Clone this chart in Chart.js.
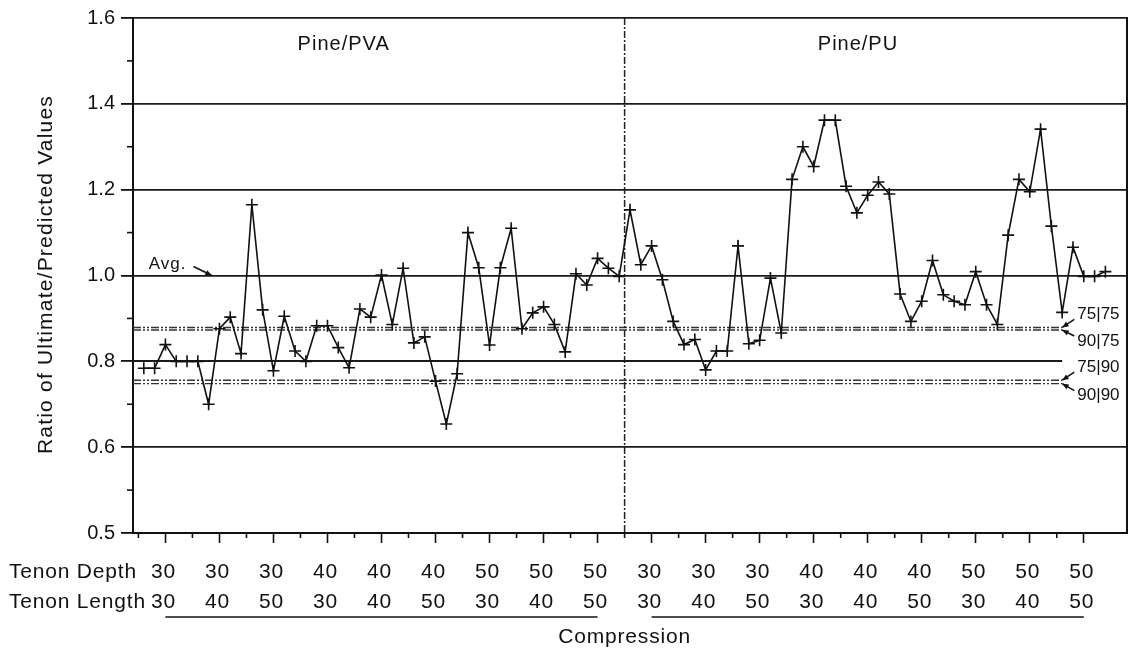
<!DOCTYPE html>
<html>
<head>
<meta charset="utf-8">
<script src="https://cdn.jsdelivr.net/npm/chart.js@4.4.1/dist/chart.umd.min.js"></script>
<style>
html,body{margin:0;padding:0;background:#fff;}
#wrap{width:1137px;height:654px;position:relative;}
</style>
</head>
<body>
<div id="wrap"><canvas id="c" width="1137" height="654"></canvas></div>
<script>
// ---- data ----
const ratios = [
  0.784, 0.784, 0.839, 0.800, 0.800, 0.800, 0.700, 0.876, 0.903, 0.818,
  1.165, 0.920, 0.778, 0.905, 0.824, 0.800, 0.883, 0.883, 0.832, 0.785,
  0.922, 0.903, 1.001, 0.886, 1.017, 0.843, 0.857, 0.754, 0.654, 0.771,
  1.100, 1.018, 0.838, 1.018, 1.110, 0.876, 0.913, 0.927, 0.886, 0.822,
  1.004, 0.978, 1.040, 1.017, 0.998, 1.153, 1.025, 1.069, 0.990, 0.893,
  0.839, 0.851, 0.780, 0.824, 0.824, 1.069, 0.841, 0.849, 0.994, 0.866,
  1.224, 1.300, 1.254, 1.362, 1.362, 1.208, 1.146, 1.187, 1.218, 1.190,
  0.957, 0.893, 0.940, 1.035, 0.955, 0.940, 0.932, 1.009, 0.932, 0.886,
  1.094, 1.224, 1.195, 1.341, 1.115, 0.914, 1.066, 0.998, 0.998, 1.009
];
const depthLabels  = ['30','30','30','40','40','40','50','50','50','30','30','30','40','40','40','50','50','50'];
const lengthLabels = ['30','40','50','30','40','50','30','40','50','30','40','50','30','40','50','30','40','50'];
const pointsPerGroup = 5;
const panelTitles = ['Pine/PVA', 'Pine/PU'];
const refLabels = ['75|75', '90|75', '75|90', '90|90'];
const refValues = [0.879, 0.873, 0.756, 0.748];
const avgValue = 1.0;
const yTickValues = [0.4, 0.6, 0.8, 1.0, 1.2, 1.4, 1.6];
const yTickLabels = ['0.5', '0.6', '0.8', '1.0', '1.2', '1.4', '1.6'];
const yMinorTicks = [0.5, 0.7, 0.9, 1.1, 1.3, 1.5];
const rowTitles = ['Tenon Depth', 'Tenon Length'];
const yTitle = 'Ratio of Ultimate/Predicted Values';
const xTitle = 'Compression';
const avgText = 'Avg.';

// derived structure
const groupCenters = depthLabels.map((_, g) => g * pointsPerGroup + (pointsPerGroup - 1) / 2);
const xMinorTicks = depthLabels.map((_, g) => g * pointsPerGroup - 0.5);
const dividerAt = ratios.length / 2 - 0.5;

const FONT = '"Liberation Sans", Arial, Helvetica, sans-serif';
Chart.defaults.font.family = FONT;
Chart.defaults.color = '#111';

function arrow(ctx, x1, y1, x2, y2, head) {
  ctx.beginPath(); ctx.moveTo(x1, y1); ctx.lineTo(x2, y2); ctx.stroke();
  const ang = Math.atan2(y2 - y1, x2 - x1);
  ctx.beginPath();
  ctx.moveTo(x2, y2);
  ctx.lineTo(x2 - head * Math.cos(ang - 0.4), y2 - head * Math.sin(ang - 0.4));
  ctx.lineTo(x2 - head * Math.cos(ang + 0.4), y2 - head * Math.sin(ang + 0.4));
  ctx.closePath(); ctx.fill();
}
function hline(ctx, x1, x2, y) { ctx.beginPath(); ctx.moveTo(x1, y); ctx.lineTo(x2, y); ctx.stroke(); }
function vline(ctx, x, y1, y2) { ctx.beginPath(); ctx.moveTo(x, y1); ctx.lineTo(x, y2); ctx.stroke(); }

const refEnd = 85;

const decor = {
  id: 'decor',
  beforeDatasetsDraw(chart) {
    const { ctx, chartArea: a, scales: { x, y } } = chart;
    ctx.save();
    ctx.strokeStyle = '#1a1a1a';
    ctx.lineWidth = 1.8;
    // 0.8 grid line (stops at the annotation arrows)
    hline(ctx, a.left, x.getPixelForValue(refEnd), Math.round(y.getPixelForValue(0.8)));
    // reference (dash-dot-dot) lines
    ctx.strokeStyle = '#333';
    ctx.lineWidth = 1.4;
    ctx.setLineDash([8, 2, 2, 2, 2, 2]);
    refValues.forEach(v => hline(ctx, a.left, x.getPixelForValue(refEnd), y.getPixelForValue(v)));
    // divider between the two adhesives
    ctx.setLineDash([7, 2, 2, 2]);
    ctx.strokeStyle = '#222';
    ctx.lineWidth = 1.5;
    vline(ctx, x.getPixelForValue(dividerAt), a.top, a.bottom);
    ctx.setLineDash([]);
    // right frame line
    ctx.strokeStyle = '#111';
    ctx.lineWidth = 2;
    vline(ctx, a.right, a.top - 1, a.bottom + 1);
    // minor ticks
    ctx.lineWidth = 1.6;
    yMinorTicks.forEach(v => hline(ctx, a.left - 6, a.left, y.getPixelForValue(v)));
    xMinorTicks.forEach(v => vline(ctx, x.getPixelForValue(v), a.bottom, a.bottom + 5));
    ctx.restore();
  },
  afterDraw(chart) {
    const { ctx, chartArea: a, scales: { x, y } } = chart;
    ctx.save();
    ctx.fillStyle = '#111';
    ctx.strokeStyle = '#111';
    // y title
    ctx.save();
    ctx.translate(46, (a.top + a.bottom) / 2 - 1);
    ctx.rotate(-Math.PI / 2);
    ctx.font = '21px ' + FONT;
    ctx.letterSpacing = '1.2px';
    ctx.textAlign = 'center';
    ctx.textBaseline = 'middle';
    ctx.fillText(yTitle, 0, 0);
    ctx.restore();

    // panel titles
    ctx.font = '20px ' + FONT;
    ctx.letterSpacing = '1px';
    ctx.textAlign = 'center';
    ctx.textBaseline = 'middle';
    ctx.fillText(panelTitles[0], x.getPixelForValue(18.5), 44);
    ctx.fillText(panelTitles[1], x.getPixelForValue(66.1), 44);

    // Avg. label
    ctx.font = '17px ' + FONT;
    ctx.letterSpacing = '1px';
    ctx.textAlign = 'left';
    ctx.fillText(avgText, x.getPixelForValue(0.45), y.getPixelForValue(avgValue) - 11);
    ctx.lineWidth = 1.5;
    arrow(ctx, x.getPixelForValue(4.6), y.getPixelForValue(avgValue) - 9,
          x.getPixelForValue(6.3), y.getPixelForValue(avgValue), 7);

    // reference labels with arrows
    ctx.font = '17px ' + FONT;
    ctx.letterSpacing = '0px';
    const offs = [-13, 11, -13, 12];
    const tipX = x.getPixelForValue(refEnd);
    const labX = x.getPixelForValue(86.4);
    refValues.forEach((v, k) => {
      const ly = y.getPixelForValue(v);
      const ty = ly + offs[k];
      ctx.fillText(refLabels[k], labX, ty);
      arrow(ctx, labX - 3, ty + (offs[k] < 0 ? 5 : -5), tipX, ly, 7);
    });

    // bottom category rows
    ctx.font = '21px ' + FONT;
    ctx.letterSpacing = '0.8px';
    ctx.textAlign = 'left';
    ctx.fillText(rowTitles[0], 9, 572);
    ctx.fillText(rowTitles[1], 9, 602);
    ctx.textAlign = 'center';
    groupCenters.forEach((c, g) => {
      const px = x.getPixelForValue(c) - 2;
      ctx.fillText(depthLabels[g], px, 572);
      ctx.fillText(lengthLabels[g], px, 602);
    });
    // underlines of each adhesive block
    ctx.lineWidth = 1.6;
    const half = depthLabels.length / 2;
    hline(ctx, x.getPixelForValue(groupCenters[0]), x.getPixelForValue(groupCenters[half - 1]), 617);
    hline(ctx, x.getPixelForValue(groupCenters[half]), x.getPixelForValue(groupCenters[depthLabels.length - 1]), 617);
    // x title
    ctx.fillText(xTitle, x.getPixelForValue(dividerAt), 637);
    ctx.restore();
  }
};

new Chart(document.getElementById('c').getContext('2d'), {
  type: 'line',
  data: {
    datasets: [{
      data: ratios.map((v, i) => ({ x: i, y: v })),
      borderColor: '#111',
      borderWidth: 1.6,
      pointStyle: 'cross',
      pointRadius: 6,
      pointBorderWidth: 1.6,
      pointBorderColor: '#111',
      pointBackgroundColor: '#111',
      tension: 0,
      fill: false
    }]
  },
  options: {
    responsive: false,
    animation: false,
    devicePixelRatio: 1,
    layout: { padding: { left: 0, right: 10, top: 14, bottom: 0 } },
    plugins: { legend: { display: false }, tooltip: { enabled: false } },
    scales: {
      x: {
        type: 'linear', min: -1, max: 91,
        afterBuildTicks: s => { s.ticks = groupCenters.map(v => ({ value: v })); },
        afterFit: s => { s.height = 121; },
        ticks: { display: false },
        grid: { drawOnChartArea: false, drawTicks: true, tickLength: 10, tickColor: '#111', tickWidth: 1.6 },
        border: { display: true, color: '#111', width: 2 }
      },
      y: {
        min: 0.4, max: 1.6,
        afterBuildTicks: s => { s.ticks = yTickValues.map(v => ({ value: v })); },
        afterFit: s => { s.width = 133; },
        ticks: {
          font: { size: 20 }, color: '#111', padding: 6,
          callback: (v) => {
            const k = yTickValues.findIndex(t => Math.abs(t - v) < 1e-6);
            return k >= 0 ? yTickLabels[k] : '';
          }
        },
        grid: {
          color: (c) => {
            const v = c.tick ? c.tick.value : 0;
            return (Math.abs(v - 0.4) < 1e-6 || Math.abs(v - 0.8) < 1e-6) ? 'rgba(0,0,0,0)' : '#1a1a1a';
          },
          lineWidth: 1.8, tickColor: '#111', tickLength: 12, tickWidth: 1.8
        },
        border: { display: true, color: '#111', width: 2 }
      }
    }
  },
  plugins: [decor]
});
</script>
</body>
</html>
